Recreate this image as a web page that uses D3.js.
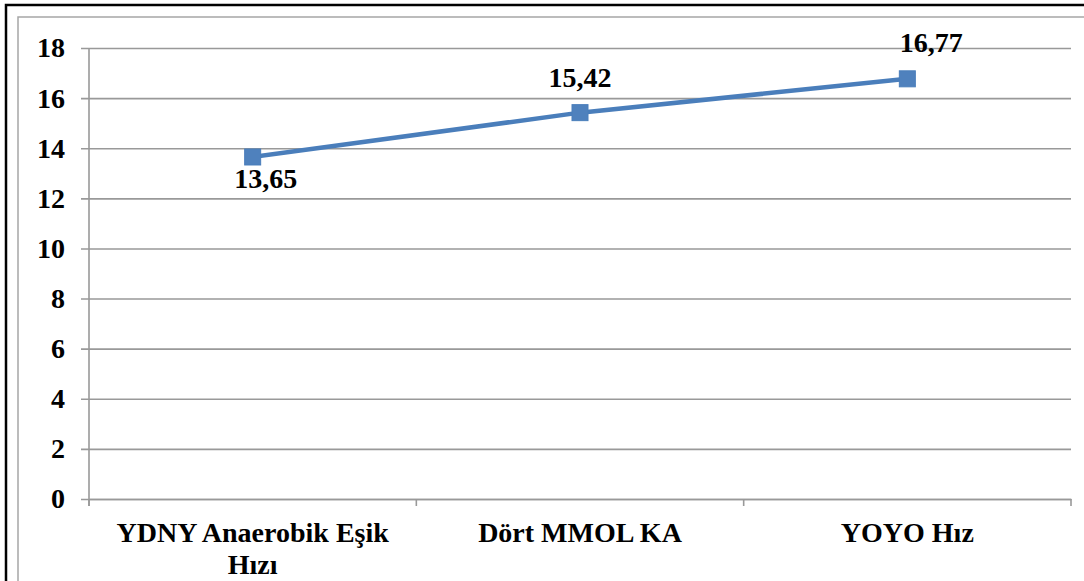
<!DOCTYPE html>
<html>
<head>
<meta charset="utf-8">
<script src="https://cdn.jsdelivr.net/npm/d3@7"></script>
<style>
  html, body { margin: 0; padding: 0; background: #fff; }
  svg { display: block; }
  text { font-family: "Liberation Serif", "Times New Roman", serif; font-weight: bold; fill: #000; }
</style>
</head>
<body>
<svg id="chart" width="1084" height="581"></svg>
<script>
// Speed measures (km/h) for the three test methods
const categories = [["YDNY Anaerobik Eşik", "Hızı"], ["Dört MMOL KA"], ["YOYO Hız"]];
const values = [13.65, 15.42, 16.77];
const labelText = ["13,65", "15,42", "16,77"];
const yTicks = [0, 2, 4, 6, 8, 10, 12, 14, 16, 18];

const svg = d3.select("#chart");
const W = 1084, H = 581;
const plot = { left: 89, right: 1071, top: 48, bottom: 499 };
// hand-placed value label offsets (px) relative to each marker
const labelOffset = [{ dx: 13, dy: 31 }, { dx: 0, dy: -26 }, { dx: 24, dy: -27 }];

// outer frame (black) and chart area border (gray)
svg.append("rect").attr("x", 6).attr("y", 5).attr("width", W + 10).attr("height", H + 10)
  .attr("fill", "none").attr("stroke", "#000").attr("stroke-width", 2.5);
svg.append("rect").attr("x", 18).attr("y", 17).attr("width", W + 10).attr("height", H + 10)
  .attr("fill", "none").attr("stroke", "#a6a6a6").attr("stroke-width", 1.5);

const x = d3.scaleBand().domain(d3.range(categories.length))
  .range([plot.left, plot.right]).paddingInner(0).paddingOuter(0);
const y = d3.scaleLinear().domain([0, 18]).range([plot.bottom, plot.top]);

// horizontal gridlines with short outward ticks
const yAxis = d3.axisLeft(y).tickValues(yTicks).tickSize(-(plot.right - plot.left)).tickPadding(24).tickFormat(d3.format("d"));
const gy = svg.append("g").attr("transform", `translate(${plot.left},0)`).call(yAxis);
gy.select(".domain").remove();
gy.selectAll(".tick line").attr("x1", -8).attr("stroke", "#999").attr("stroke-width", 1.6);
gy.selectAll(".tick text").attr("font-size", 28);

// vertical axis line
svg.append("line").attr("x1", plot.left).attr("x2", plot.left)
  .attr("y1", plot.top).attr("y2", plot.bottom + 7).attr("stroke", "#999").attr("stroke-width", 1.6);

// category axis
const xAxis = d3.axisBottom(x).tickSize(0).tickFormat("");
const gx = svg.append("g").attr("transform", `translate(0,${plot.bottom})`).call(xAxis);
gx.select(".domain").attr("stroke", "#999").attr("stroke-width", 1.6);
const boundaries = d3.range(categories.length + 1).map(i => plot.left + i * x.bandwidth());
gx.selectAll(".bound").data(boundaries).enter().append("line")
  .attr("x1", d => d).attr("x2", d => d).attr("y1", 0).attr("y2", 7)
  .attr("stroke", "#999").attr("stroke-width", 1.6);

const catLabels = svg.append("g");
categories.forEach((lines, i) => {
  const t = catLabels.append("text")
    .attr("x", x(i) + x.bandwidth() / 2).attr("y", 542)
    .attr("text-anchor", "middle").attr("font-size", 28);
  lines.forEach((ln, j) => {
    t.append("tspan").attr("x", x(i) + x.bandwidth() / 2).attr("dy", j === 0 ? 0 : 32).text(ln);
  });
});

// series line
const cx = i => x(i) + x.bandwidth() / 2;
const line = d3.line().x((d, i) => cx(i)).y(d => y(d));
svg.append("path").datum(values).attr("d", line)
  .attr("fill", "none").attr("stroke", "#4a7ebb").attr("stroke-width", 4.5);

// square markers
const ms = 16;
svg.selectAll(".marker").data(values).enter().append("rect")
  .attr("x", (d, i) => cx(i) - ms / 2).attr("y", d => y(d) - ms / 2)
  .attr("width", ms).attr("height", ms)
  .attr("fill", "#4f81bd").attr("stroke", "#4a7ebb").attr("stroke-width", 1);

// value labels
svg.selectAll(".vlabel").data(values).enter().append("text")
  .attr("x", (d, i) => cx(i) + labelOffset[i].dx)
  .attr("y", (d, i) => y(d) + labelOffset[i].dy)
  .attr("text-anchor", "middle").attr("font-size", 28)
  .text((d, i) => labelText[i]);
</script>
</body>
</html>
